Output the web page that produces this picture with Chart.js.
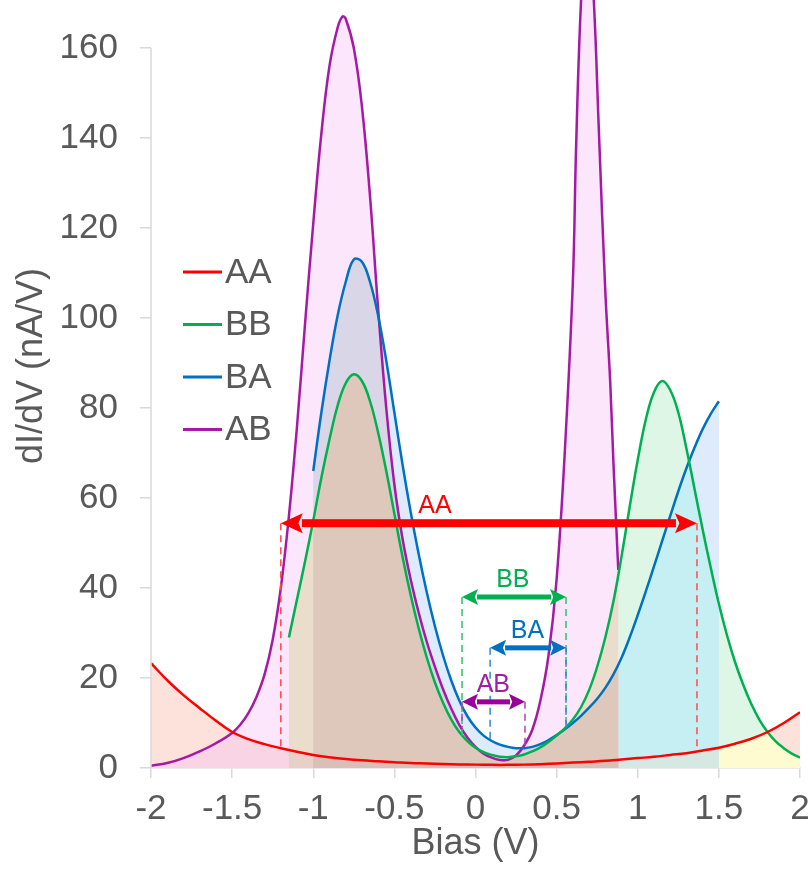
<!DOCTYPE html>
<html>
<head>
<meta charset="utf-8">
<title>dI/dV vs Bias</title>
<script src="https://cdn.jsdelivr.net/npm/chart.js@4.4.1/dist/chart.umd.min.js"></script>
<style>
  html, body { margin: 0; padding: 0; background: #fff; }
  #wrap { width: 810px; height: 870px; }
</style>
</head>
<body>
<div id="wrap"><canvas id="didv" width="810" height="870"></canvas></div>
<script>
// dI/dV (nA/V) against bias (V) for the four junction types
const seriesNames = ['AA', 'BB', 'BA', 'AB'];

const aaBias = [-2.0, -1.9, -1.8, -1.7, -1.6, -1.5, -1.4, -1.3, -1.2, -1.1, -1.0, -0.9, -0.8, -0.7, -0.6, -0.5, -0.4, -0.3, -0.2, -0.1,
  0.0, 0.1, 0.2, 0.3, 0.4, 0.5, 0.6, 0.7, 0.8, 0.9, 1.0, 1.1, 1.2, 1.3, 1.4, 1.5, 1.6, 1.7, 1.8, 1.9, 2.0];
const aaVals = [23.3, 19.5, 16.2, 13.3, 10.5, 8.0, 6.4, 5.3, 4.4, 3.6, 2.9, 2.4, 2.0, 1.7, 1.5, 1.3, 1.1, 1.0, 0.9, 0.8,
  0.75, 0.7, 0.7, 0.75, 0.85, 1.0, 1.2, 1.4, 1.6, 1.9, 2.2, 2.5, 2.9, 3.3, 3.9, 4.5, 5.4, 6.5, 8.0, 10.0, 12.4];

const bbBias = [-1.15, -1.1, -1.05, -1.0, -0.95, -0.9, -0.85, -0.8, -0.75, -0.7, -0.65, -0.6, -0.55, -0.5, -0.45, -0.4,
  -0.35, -0.3, -0.25, -0.2, -0.15, -0.1, -0.05, 0.0, 0.05, 0.1, 0.15, 0.2, 0.25, 0.3, 0.35, 0.4, 0.45, 0.5, 0.55, 0.6,
  0.65, 0.7, 0.75, 0.8, 0.85, 0.9, 0.95, 1.0, 1.05, 1.1, 1.15, 1.2, 1.25, 1.3, 1.35, 1.4, 1.45, 1.5, 1.55, 1.6, 1.65,
  1.7, 1.75, 1.8, 1.85, 1.9, 1.95, 2.0];
const bbVals = [29, 37.5, 46, 55, 64.5, 73, 80.5, 85.5, 87.5, 86, 81.5, 74.5, 66, 56.5, 47, 38.5,
  31, 24.5, 19, 14.5, 10.8, 8, 6, 4.5, 3.5, 2.9, 2.5, 2.4, 2.6, 3.0, 3.7, 4.6, 5.8, 7.2, 8.8, 10.8,
  13.5, 17.3, 22.5, 29, 37, 47, 58, 68.5, 77.5, 83.5, 86, 84, 79, 71, 62, 53, 44.5, 36.5, 29.5, 23.5, 18.5,
  14.2, 10.7, 8, 5.9, 4.4, 3.2, 2.3];

const baBias = [-1.0, -0.95, -0.9, -0.85, -0.8, -0.75, -0.7, -0.65, -0.6, -0.55, -0.5, -0.45, -0.4, -0.35, -0.3, -0.25,
  -0.2, -0.15, -0.1, -0.05, 0.0, 0.05, 0.1, 0.15, 0.2, 0.25, 0.3, 0.35, 0.4, 0.45, 0.5, 0.55, 0.6, 0.65, 0.7, 0.75,
  0.8, 0.85, 0.9, 0.95, 1.0, 1.05, 1.1, 1.15, 1.2, 1.25, 1.3, 1.35, 1.4, 1.45, 1.5];
const baVals = [66, 79, 90.5, 100.5, 108, 113, 112.5, 108, 100.5, 90.5, 79, 67.5, 57, 47.5, 39, 31.5,
  25, 19.5, 15, 11.5, 9, 7.2, 6, 5.2, 4.7, 4.4, 4.4, 4.7, 5.3, 6.2, 7.3, 8.6, 10, 11.6, 13.4, 15.4,
  17.8, 20.8, 24.5, 29, 34, 39.3, 44.8, 50.4, 56, 61.5, 66.6, 71.2, 75.3, 78.7, 81.5];

const abBias = [-2.0, -1.9, -1.8, -1.7, -1.6, -1.5, -1.45, -1.4, -1.35, -1.3, -1.25, -1.2, -1.15, -1.1, -1.05, -1.0,
  -0.95, -0.9, -0.85, -0.82, -0.8, -0.75, -0.7, -0.65, -0.6, -0.55, -0.5, -0.45, -0.4, -0.35, -0.3, -0.25, -0.2,
  -0.15, -0.1, -0.05, 0.0, 0.05, 0.1, 0.15, 0.2, 0.25, 0.3, 0.35, 0.4, 0.45, 0.5, 0.55, 0.6, 0.62, 0.65, 0.69,
  0.73, 0.76, 0.8, 0.83, 0.85, 0.88];
const abVals = [0.5, 1.1, 2.2, 3.7, 5.5, 7.8, 9.6, 12.2, 15.8, 20.8, 28.5, 40, 56, 76, 99, 121,
  141, 156, 164.5, 167, 166.5, 160, 147, 127, 102, 80, 63, 51, 42, 34.5, 28, 22.5, 17.5,
  13.2, 9.6, 6.8, 4.7, 3.2, 2.3, 1.8, 1.8, 2.8, 5, 8.5, 15, 25, 42, 70, 108, 138, 170, 192,
  170, 142, 106, 86, 68, 44];

const yTicks = [0, 20, 40, 60, 80, 100, 120, 140, 160];

// gap markers: arrow span, arrow height, and where the dashed drops meet the curve
const gapFrom = [-1.2, -0.083, 0.09, -0.083];
const gapTo = [1.365, 0.558, 0.558, 0.305];
const gapLevel = [54.4, 38, 26.7, 14.7];
const gapFootFrom = [4.4, 7.2, 6.4, 9];
const gapFootTo = [3.7, 9.1, 8.8, 4.8];
const gapLabelX = [-0.25, 0.23, 0.32, 0.11];

const FONT = "'Liberation Sans', Arial, sans-serif";
const textGrey = '#595959';
const axisGrey = '#d9d9d9';
const lineColours = ['#ff0000', '#00b050', '#0070c0', '#a51aa5'];
const arrowColours = ['#ff0000', '#00b050', '#0070c0', '#990099'];
const dashColours = ['#ff4a4a', '#2fc070', '#2f88d0', '#b040b0'];
const gapLabelColours = ['#ff0000', '#00b050', '#0070c0', '#a020a0'];

// fill tint for every combination of curves a point sits under (bit i = series i)
const overlapColours = [null,
  '#fde2dc', '#def6e6', '#fffbd0', '#ddebfc', '#eee2ec', '#c6eff3', '#d6e8e2',
  '#fce6fb', '#f9d4e4', '#ebddcc', '#e6d0c8', '#d9d6e8', '#e2d2e2', '#dec8bc', '#d8bfb8'];

function toPoints(xs, ys) {
  return xs.map((x, i) => ({ x: x, y: ys[i] }));
}

function bitCount(m) {
  let n = 0;
  while (m) { n += m & 1; m >>= 1; }
  return n;
}

const overlapFill = {
  id: 'overlapFill',
  beforeDatasetsDraw(chart) {
    const { ctx, chartArea: area, scales: { y } } = chart;
    const base = y.getPixelForValue(0);
    const paths = chart.data.datasets.map((ds, i) => {
      const meta = chart.getDatasetMeta(i);
      const line = meta.dataset;
      const pts = meta.data;
      line.updateControlPoints(area, 'x');
      const p = new Path2D();
      line.path(p);
      p.lineTo(pts[pts.length - 1].x, base);
      p.lineTo(pts[0].x, base);
      p.closePath();
      return p;
    });
    const masks = [];
    for (let m = 1; m < (1 << paths.length); m++) masks.push(m);
    masks.sort((a, b) => bitCount(a) - bitCount(b));
    masks.forEach(m => {
      ctx.save();
      paths.forEach((p, i) => { if (m & (1 << i)) ctx.clip(p); });
      ctx.fillStyle = overlapColours[m];
      ctx.fillRect(area.left, 0, area.right - area.left, base);
      ctx.restore();
    });
  }
};

function drawArrow(ctx, x0, x1, y, colour, shaft, headLen, headHalf) {
  ctx.fillStyle = colour;
  ctx.fillRect(x0 + headLen - 1, y - shaft / 2, x1 - x0 - 2 * headLen + 2, shaft);
  ctx.beginPath();
  ctx.moveTo(x0, y);
  ctx.lineTo(x0 + headLen, y - headHalf);
  ctx.lineTo(x0 + headLen * 0.8, y);
  ctx.lineTo(x0 + headLen, y + headHalf);
  ctx.closePath();
  ctx.fill();
  ctx.beginPath();
  ctx.moveTo(x1, y);
  ctx.lineTo(x1 - headLen, y - headHalf);
  ctx.lineTo(x1 - headLen * 0.8, y);
  ctx.lineTo(x1 - headLen, y + headHalf);
  ctx.closePath();
  ctx.fill();
}

const gapMarkers = {
  id: 'gapMarkers',
  afterDatasetsDraw(chart) {
    const { ctx, scales: { x, y } } = chart;
    ctx.save();
    // dashed drops first, arrows on top
    ctx.lineWidth = 1.5;
    ctx.setLineDash([7, 5]);
    gapFrom.forEach((g, i) => {
      const yl = y.getPixelForValue(gapLevel[i]);
      ctx.strokeStyle = dashColours[i];
      ctx.beginPath();
      ctx.moveTo(x.getPixelForValue(g), yl);
      ctx.lineTo(x.getPixelForValue(g), y.getPixelForValue(gapFootFrom[i]));
      ctx.moveTo(x.getPixelForValue(gapTo[i]), yl);
      ctx.lineTo(x.getPixelForValue(gapTo[i]), y.getPixelForValue(gapFootTo[i]));
      ctx.stroke();
    });
    ctx.setLineDash([]);
    gapFrom.forEach((g, i) => {
      const yl = y.getPixelForValue(gapLevel[i]);
      const big = i === 0;
      drawArrow(ctx, x.getPixelForValue(g), x.getPixelForValue(gapTo[i]), yl, arrowColours[i],
        big ? 8 : 5, big ? 22 : 16, big ? 10 : 8);
      ctx.fillStyle = gapLabelColours[i];
      ctx.font = '25px ' + FONT;
      ctx.textAlign = 'center';
      ctx.textBaseline = 'middle';
      ctx.fillText(seriesNames[i], x.getPixelForValue(gapLabelX[i]), yl - 17);
    });
    ctx.restore();
  }
};

const sideDecor = {
  id: 'sideDecor',
  afterDraw(chart) {
    const { ctx, chartArea: area, scales: { y } } = chart;
    ctx.save();
    // vertical axis line only spans the labelled range
    ctx.strokeStyle = axisGrey;
    ctx.lineWidth = 1.5;
    ctx.beginPath();
    ctx.moveTo(area.left, y.getPixelForValue(0));
    ctx.lineTo(area.left, y.getPixelForValue(yTicks[yTicks.length - 1]));
    ctx.stroke();

    // axis title
    ctx.fillStyle = textGrey;
    ctx.font = '36px ' + FONT;
    ctx.textAlign = 'center';
    ctx.textBaseline = 'middle';
    ctx.translate(32, 366);
    ctx.rotate(-Math.PI / 2);
    ctx.fillText('dI/dV (nA/V)', 0, 0);
    ctx.setTransform(1, 0, 0, 1, 0, 0);

    // legend
    ctx.font = '35px ' + FONT;
    ctx.textAlign = 'left';
    chart.data.datasets.forEach((ds, i) => {
      const cy = 272 + i * 52.5;
      const lx = area.left + 32;
      ctx.strokeStyle = ds.borderColor;
      ctx.lineWidth = 3;
      ctx.beginPath();
      ctx.moveTo(lx, cy);
      ctx.lineTo(lx + 39, cy);
      ctx.stroke();
      ctx.fillStyle = textGrey;
      ctx.fillText(ds.label, lx + 42, cy + 1);
    });
    ctx.restore();
  }
};

const datasets = [
  toPoints(aaBias, aaVals),
  toPoints(bbBias, bbVals),
  toPoints(baBias, baVals),
  toPoints(abBias, abVals)
].map((pts, i) => ({
  label: seriesNames[i],
  data: pts,
  borderColor: lineColours[i],
  borderWidth: 2.5,
  pointRadius: 0,
  fill: false,
  tension: 0.4,
  clip: { left: 0, top: 10, right: 0, bottom: 0 }
}));

new Chart(document.getElementById('didv'), {
  type: 'line',
  data: { datasets: datasets },
  plugins: [overlapFill, gapMarkers, sideDecor],
  options: {
    responsive: false,
    animation: false,
    devicePixelRatio: 1,
    layout: { padding: { top: 3, left: 0, right: 0, bottom: 0 } },
    plugins: {
      legend: { display: false },
      tooltip: { enabled: false }
    },
    scales: {
      x: {
        type: 'linear',
        min: -2,
        max: 2,
        border: { display: true, color: axisGrey, width: 1.5 },
        grid: { drawOnChartArea: false, tickLength: 10, color: axisGrey, lineWidth: 1.5 },
        ticks: {
          stepSize: 0.5,
          autoSkip: false,
          maxRotation: 0,
          padding: 10,
          color: textGrey,
          font: { family: FONT, size: 35 },
          callback: v => String(v)
        },
        title: {
          display: true,
          text: 'Bias (V)',
          color: textGrey,
          font: { family: FONT, size: 36 },
          padding: { top: 0, bottom: 4 }
        },
        afterFit: s => { s.height = 102; s.paddingLeft = 0; s.paddingRight = 10; }
      },
      y: {
        min: 0,
        max: 170,
        border: { display: false },
        grid: { drawOnChartArea: false, tickLength: 11, color: axisGrey, lineWidth: 1.5 },
        ticks: {
          padding: 22,
          color: textGrey,
          font: { family: FONT, size: 35 }
        },
        afterBuildTicks: s => { s.ticks = yTicks.map(v => ({ value: v })); },
        afterFit: s => { s.width = 151; s.paddingTop = 0; s.paddingBottom = 0; }
      }
    }
  }
});
</script>
</body>
</html>
